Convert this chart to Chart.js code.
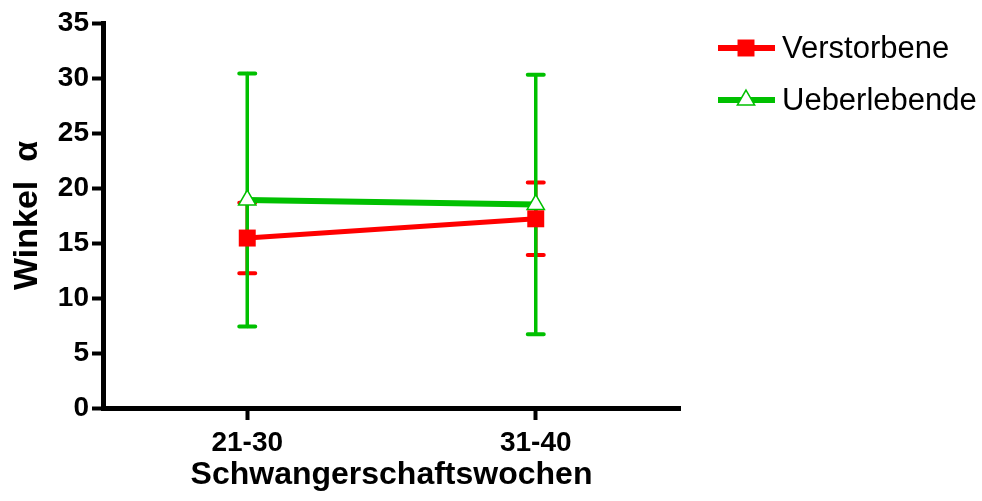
<!DOCTYPE html>
<html>
<head>
<meta charset="utf-8">
<script src="https://cdn.jsdelivr.net/npm/chart.js@4.4.0/dist/chart.umd.min.js"></script>
<style>
  html, body { margin: 0; padding: 0; background: #fff; }
  #wrap { width: 982px; height: 501px; }
</style>
</head>
<body>
<div id="wrap"><canvas id="myChart"></canvas></div>
<script>
// Werte
const kategorien = ["21-30", "31-40"];
const verstorbene = [15.45, 17.2];
const verstorbeneFehler = [3.2, 3.3];
const ueberlebende = [18.9, 18.5];
const ueberlebendeFehler = [11.5, 11.8];
const yTicks = [0, 5, 10, 15, 20, 25, 30, 35];

const schrift = "'Liberation Sans', Arial, sans-serif";
const rot = "#ff0000";
const gruen = "#00c000";

// Fehlerbalken (Mittelwert +/- Fehler) ueber die Skalen zeichnen
const fehlerbalken = {
  id: "fehlerbalken",
  beforeDatasetsDraw(chart) {
    const ctx = chart.ctx;
    const xs = chart.scales.x;
    const ys = chart.scales.y;
    chart.data.datasets.forEach((ds) => {
      ds.data.forEach((v, i) => {
        const e = ds.fehler[i];
        const px = xs.getPixelForValue(i);
        const oben = ys.getPixelForValue(v + e);
        const unten = ys.getPixelForValue(v - e);
        ctx.save();
        ctx.strokeStyle = ds.borderColor;
        ctx.lineCap = "round";
        ctx.lineWidth = 3.5;
        ctx.beginPath();
        ctx.moveTo(px, oben);
        ctx.lineTo(px, unten);
        ctx.stroke();
        ctx.lineWidth = 4;
        ctx.beginPath();
        ctx.moveTo(px - 8, oben);
        ctx.lineTo(px + 8, oben);
        ctx.moveTo(px - 8, unten);
        ctx.lineTo(px + 8, unten);
        ctx.stroke();
        ctx.restore();
      });
    });
  }
};

// eigene Legende rechts neben dem Diagramm
const legende = {
  id: "legende",
  afterDraw(chart) {
    const ctx = chart.ctx;
    const x0 = chart.chartArea.right + 38;
    chart.data.datasets.forEach((ds, i) => {
      const y = 48 + i * 52;
      ctx.save();
      ctx.strokeStyle = ds.borderColor;
      ctx.lineWidth = 6;
      ctx.beginPath();
      ctx.moveTo(x0, y);
      ctx.lineTo(x0 + 57, y);
      ctx.stroke();
      ctx.fillStyle = ds.pointBackgroundColor;
      ctx.strokeStyle = ds.pointBorderColor;
      ctx.lineWidth = ds.pointBorderWidth;
      Chart.helpers.drawPoint(ctx, {
        pointStyle: ds.pointStyle,
        radius: ds.pointRadius,
        borderWidth: ds.pointBorderWidth,
        rotation: 0
      }, x0 + 28, y);
      ctx.fillStyle = "#000";
      ctx.font = "31px " + schrift;
      ctx.textBaseline = "middle";
      ctx.fillText(ds.label, x0 + 64, y + 1);
      ctx.restore();
    });
  }
};

const ctx = document.getElementById("myChart");
new Chart(ctx, {
  type: "line",
  data: {
    labels: kategorien,
    datasets: [
      {
        label: "Verstorbene",
        data: verstorbene,
        fehler: verstorbeneFehler,
        borderColor: rot,
        borderWidth: 5,
        pointStyle: "rect",
        pointRadius: 12,
        pointBorderWidth: 0,
        pointBackgroundColor: rot,
        pointBorderColor: rot
      },
      {
        label: "Ueberlebende",
        data: ueberlebende,
        fehler: ueberlebendeFehler,
        borderColor: gruen,
        borderWidth: 6,
        pointStyle: "triangle",
        pointRadius: 10,
        pointBorderWidth: 1.5,
        pointBackgroundColor: "#fff",
        pointBorderColor: gruen
      }
    ]
  },
  options: {
    responsive: true,
    maintainAspectRatio: false,
    animation: false,
    layout: { padding: { top: 23, right: 302, left: 0, bottom: 0 } },
    plugins: {
      legend: { display: false },
      tooltip: { enabled: false }
    },
    scales: {
      x: {
        type: "category",
        offset: true,
        border: { color: "#000", width: 5 },
        grid: {
          offset: false,
          drawOnChartArea: false,
          drawTicks: true,
          tickLength: 12,
          tickWidth: 4,
          tickColor: "#000"
        },
        ticks: {
          color: "#000",
          padding: 6,
          font: { family: schrift, size: 28, weight: "bold" }
        },
        title: {
          display: true,
          text: "Schwangerschaftswochen",
          color: "#000",
          padding: { top: 4, bottom: 7 },
          font: { family: schrift, size: 32, weight: "bold" }
        },
        afterFit(s) { s.height = 93; }
      },
      y: {
        min: 0,
        max: 35,
        border: { color: "#000", width: 5 },
        grid: {
          drawOnChartArea: false,
          drawTicks: true,
          tickLength: 11,
          tickWidth: 4,
          tickColor: "#000"
        },
        ticks: {
          color: "#000",
          padding: 3,
          font: { family: schrift, size: 28, weight: "bold" }
        },
        afterBuildTicks(s) { s.ticks = yTicks.map((v) => ({ value: v })); },
        title: {
          display: true,
          text: "Winkel  α",
          color: "#000",
          padding: { top: 7, bottom: 0 },
          font: { family: schrift, size: 34, weight: "bold" }
        },
        afterFit(s) { s.width = 103; }
      }
    }
  },
  plugins: [fehlerbalken, legende]
});
</script>
</body>
</html>
